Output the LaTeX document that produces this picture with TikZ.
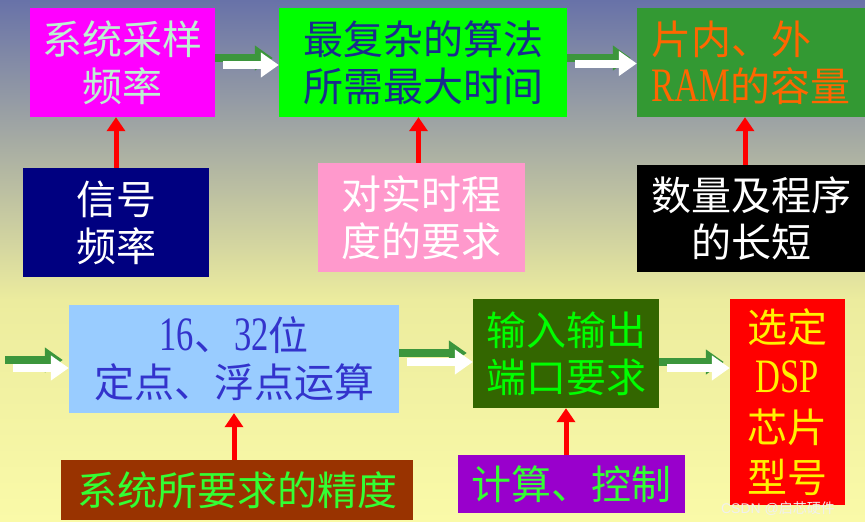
\documentclass[tikz,border=0pt]{standalone}
\usepackage{fontspec}
\setmainfont{Liberation Serif}
\newfontfamily\cjk{Noto Sans CJK SC}
\newfontfamily\latin[FakeStretch=0.72,Scale=1.2]{Liberation Serif}
\newfontfamily\wmfont{Liberation Sans}
\usetikzlibrary{arrows.meta}

\definecolor{bgtop}{RGB}{104,114,168}
\definecolor{bgmid}{RGB}{236,236,158}
\definecolor{bgbot}{RGB}{250,250,168}
\definecolor{ratemag}{RGB}{255,0,255}
\definecolor{mint}{RGB}{190,240,210}
\definecolor{navytext}{RGB}{25,45,140}
\definecolor{ramgreen}{RGB}{51,153,51}
\definecolor{ramtext}{RGB}{255,102,0}
\definecolor{sigblue}{RGB}{0,0,128}
\definecolor{rtpink}{RGB}{255,153,204}
\definecolor{arithblue}{RGB}{153,204,255}
\definecolor{arithtext}{RGB}{51,51,204}
\definecolor{precbrown}{RGB}{153,51,0}
\definecolor{litegreen}{RGB}{51,255,51}
\definecolor{iogreen}{RGB}{51,102,0}
\definecolor{ctrlpurple}{RGB}{153,0,204}
\definecolor{arrowgreen}{RGB}{60,150,60}

\begin{document}
\begin{tikzpicture}[x=1pt,y=-1pt,
  box/.style={rectangle,inner sep=0pt,align=center,font=\cjk\fontsize{40}{47}\selectfont},
  feed/.style={red,line width=5pt,-{Triangle[width=18pt,length=14pt]}},
  shadowflow/.style={arrowgreen,line width=8pt,-{Triangle[width=24pt,length=18pt]},shorten >=6pt},
  flow/.style={white,line width=8pt,-{Triangle[width=24pt,length=18pt]},shorten <=8pt}]
% background
\shade[top color=bgtop,bottom color=bgmid] (0,0) rectangle (865,300);
\shade[top color=bgmid,bottom color=bgbot] (0,300) rectangle (865,522);
\useasboundingbox (0,0) rectangle (865,522);

% top row
\node[box,fill=ratemag,text=mint,minimum width=185pt,minimum height=109pt] (rate) at (122.5,62.5) {系统采样\\频率};
\node[box,fill=green,text=navytext,minimum width=288pt,minimum height=109pt] (algo) at (423,62.5) {最复杂的算法\\所需最大时间};
\node[box,fill=ramgreen,text=ramtext,align=left,minimum width=228pt,minimum height=109pt] (ram) at (751,62.5) {片内、外\\{\latin RAM}的容量};

% second row
\node[box,fill=sigblue,text=white,minimum width=186pt,minimum height=109pt] (sig) at (116,222.5) {信号\\频率};
\node[box,fill=rtpink,text=white,minimum width=207pt,minimum height=109pt] (realtime) at (421.5,217.5) {对实时程\\度的要求};
\node[box,fill=black,text=white,minimum width=228pt,minimum height=107pt] (prog) at (751,218.5) {数量及程序\\的长短};

% third row
\node[box,fill=arithblue,text=arithtext,minimum width=330pt,minimum height=108pt] (arith) at (234,359) {{\latin 16}、{\latin 32}位\\定点、浮点运算};
\node[box,fill=iogreen,text=green,minimum width=186pt,minimum height=109pt] (io) at (566,353.5) {输入输出\\端口要求};
\node[box,fill=red,text=yellow,font=\cjk\fontsize{40}{50}\selectfont,minimum width=115pt,minimum height=206pt] (chip) at (787.5,402) {选定\\{\latin DSP}\\芯片\\型号};

% bottom row
\node[box,fill=precbrown,text=litegreen,minimum width=352pt,minimum height=60pt] (prec) at (237,490) {系统所要求的精度};
\node[box,fill=ctrlpurple,text=litegreen,minimum width=227pt,minimum height=58pt] (ctrl) at (571.5,484) {计算、控制};

% requirements
\draw[feed] (sig.north) -- (sig.north |- rate.south);
\draw[feed] ([xshift=-3pt]realtime.north) -- ([xshift=-3pt]realtime.north |- algo.south);
\draw[feed] ([xshift=-6pt]prog.north) -- ([xshift=-6pt]prog.north |- ram.south);
\draw[feed] (arith.south |- prec.north) -- (arith.south);
\draw[feed] (io.south |- ctrl.north) -- (io.south);

% main flow
\draw[shadowflow] ([yshift=4.5pt]rate.east) -- ([yshift=4.5pt]rate.east -| algo.west);
\draw[flow] ([yshift=-2.5pt]rate.east) -- ([yshift=-2.5pt]rate.east -| algo.west);
\draw[shadowflow] ([yshift=4.5pt]algo.east) -- ([yshift=4.5pt]algo.east -| ram.west);
\draw[flow] ([yshift=-1pt]algo.east) -- ([yshift=-1pt]algo.east -| ram.west);
\coordinate (start) at (5,364);
\draw[shadowflow] ([yshift=4pt]start) -- ([yshift=4pt]start -| arith.west);
\draw[flow] ([yshift=-4pt]start) -- ([yshift=-4pt]start -| arith.west);
\draw[shadowflow] ([yshift=6pt]arith.east) -- ([yshift=6pt]arith.east -| io.west);
\draw[flow] ([yshift=-3pt]arith.east) -- ([yshift=-3pt]arith.east -| io.west);
\draw[shadowflow] ([yshift=-8.5pt]io.east) -- ([yshift=-8.5pt]io.east -| chip.west);
\draw[flow] ([yshift=-14.5pt]io.east) -- ([yshift=-14.5pt]io.east -| chip.west);

\node[font=\wmfont\fontsize{14}{14}\selectfont,text=white!88!gray] (mark) at (778,509) {CSDN @{\cjk 启芯硬件}};
\end{tikzpicture}
\end{document}
